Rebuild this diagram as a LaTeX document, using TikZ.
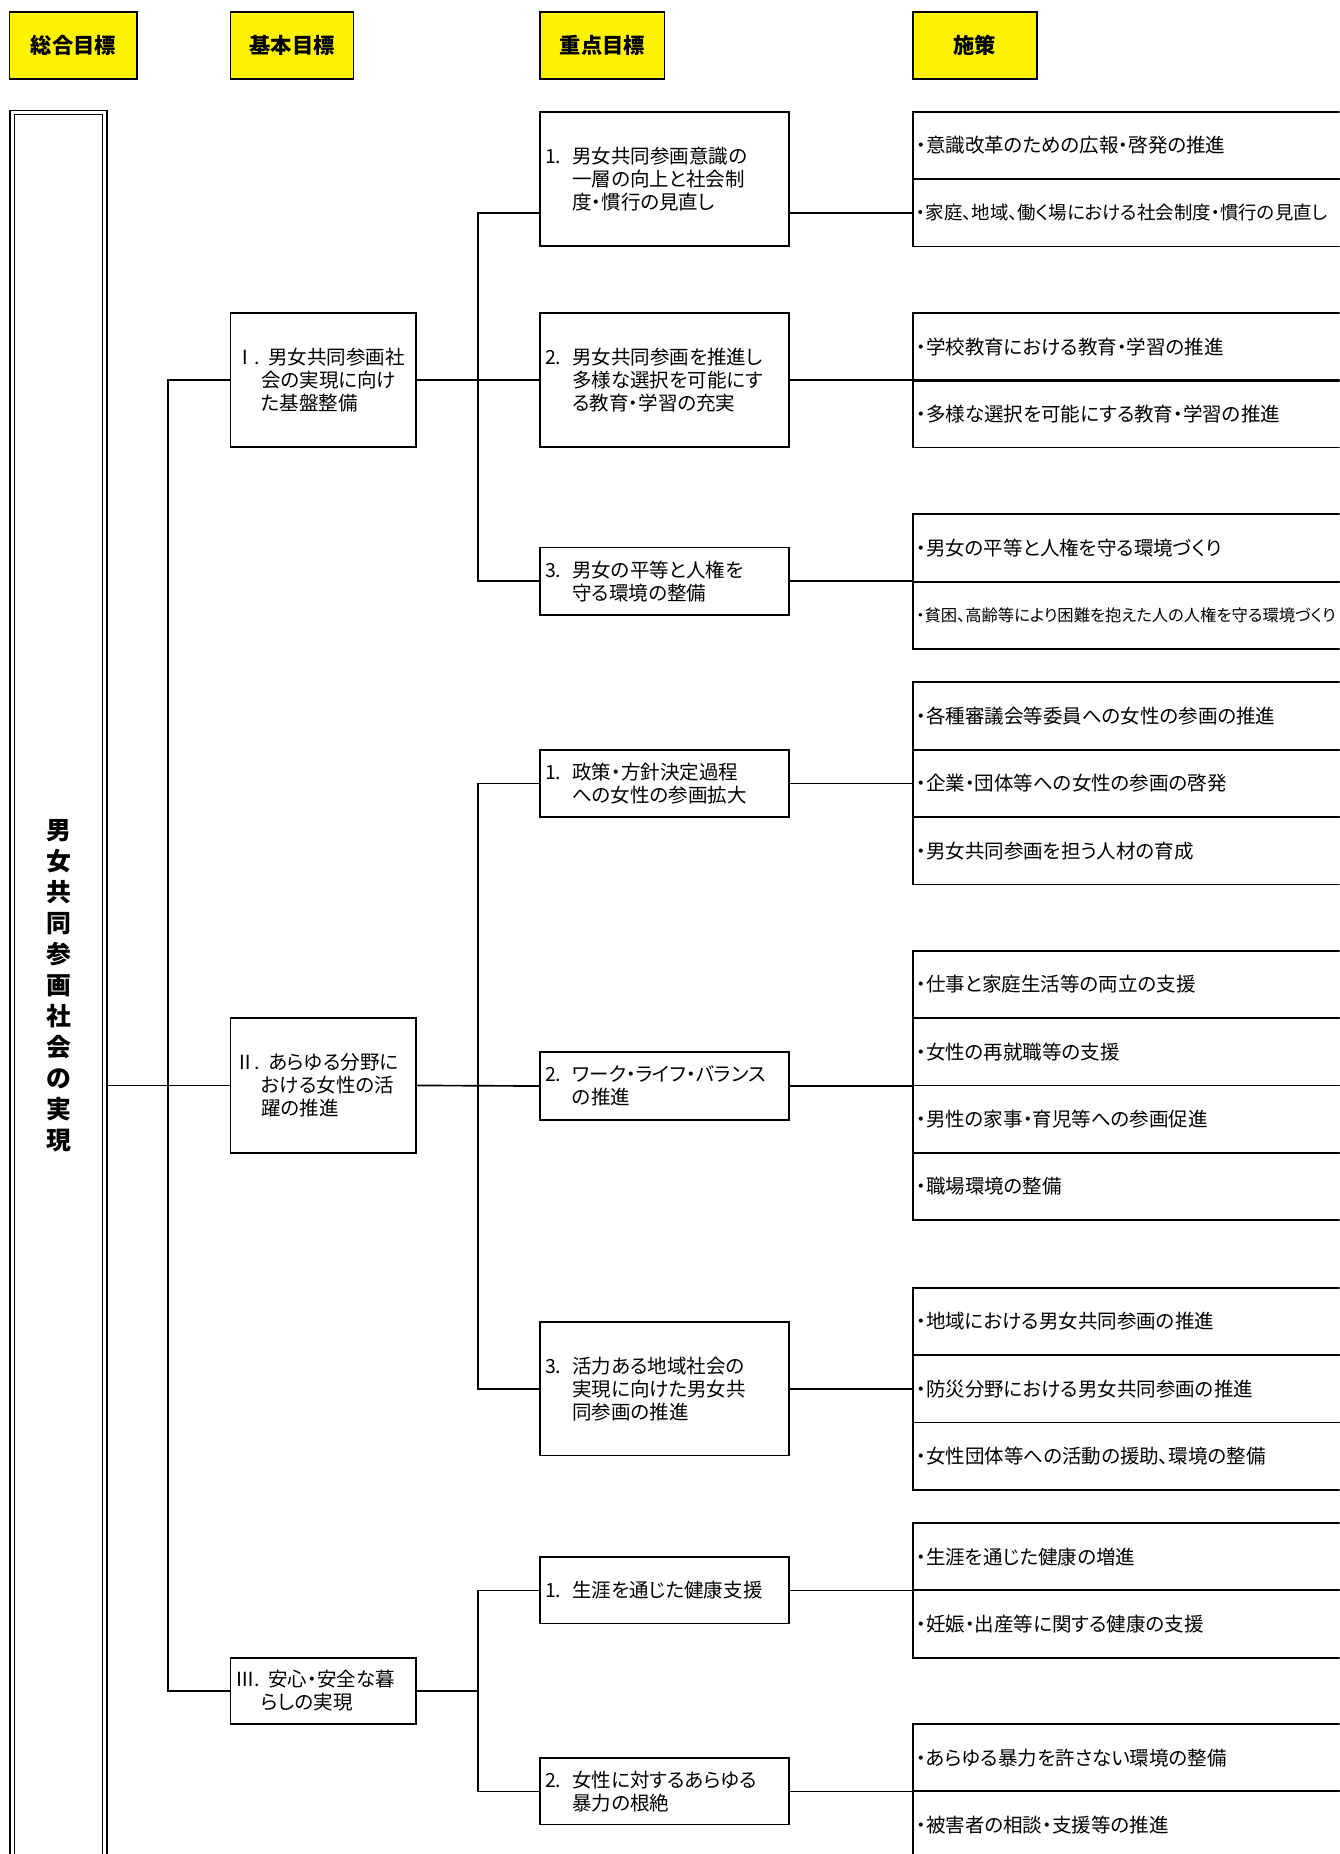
\documentclass[tikz,border=0pt]{standalone}
\usepackage{fontspec}
\setmainfont{Noto Sans CJK JP}[RawFeature=+palt]
\begin{document}
\begin{tikzpicture}[x=1pt,y=-1pt,
  head/.style={draw,line width=1.5pt,fill=yellow,minimum height=57pt,font=\fontsize{18}{20}\selectfont\bfseries},
  kbox/.style={draw,line width=1.5pt,minimum width=157pt,text width=149pt,inner xsep=4pt,align=left,font=\fontsize{16.5}{19.5}\selectfont},
  jbox/.style={draw,line width=1.5pt,minimum width=210pt,text width=202pt,inner xsep=4pt,align=left,font=\fontsize{16.5}{19.5}\selectfont},
  sbox/.style={draw,line width=1.5pt,minimum width=372pt,minimum height=57pt,text width=366pt,inner xsep=3pt,align=left,font=\fontsize{16.5}{19.5}\selectfont},
  link/.style={line width=1.4pt}]
\useasboundingbox (0,0) rectangle (1133,1568);
\clip (0,0) rectangle (1133,1568);

\node[head,minimum width=108pt] (H1) at (62,38.5) {総合目標};
\node[head,minimum width=104pt] (H2) at (247,38.5) {基本目標};
\node[head,minimum width=105pt] (H3) at (509.5,38.5) {重点目標};
\node[head,minimum width=105pt] (H4) at (824.5,38.5) {施策};

\node[draw,double,double distance=2.5pt,line width=1pt,minimum width=78.5pt,minimum height=1476.75pt,align=center,font=\fontsize{21}{26.2}\selectfont\bfseries] (G) at (49.5,833.6) {男\\女\\共\\同\\参\\画\\社\\会\\の\\実\\現};

\node[kbox,minimum height=113pt] (K1) at (273.5,321.5) {\makebox[28pt][l]{Ⅰ.}男女共同参画社\\\hspace*{22pt}会の実現に向け\\\hspace*{22pt}た基盤整備};
\node[kbox,minimum height=114pt] (K2) at (273.5,918) {\makebox[28pt][l]{Ⅱ.}あらゆる分野に\\\hspace*{22pt}おける女性の活\\\hspace*{22pt}躍の推進};
\node[kbox,minimum height=56pt] (K3) at (273.5,1430) {\makebox[28pt][l]{Ⅲ.}安心・安全な暮\\\hspace*{22pt}らしの実現};

\node[jbox,minimum height=113pt] (J11) at (562,151.5) {\makebox[23pt][l]{1.}男女共同参画意識の\\\hspace*{23pt}一層の向上と社会制\\\hspace*{23pt}度・慣行の見直し};
\node[jbox,minimum height=113pt] (J12) at (562,321.5) {\makebox[23pt][l]{2.}男女共同参画を推進し\\\hspace*{23pt}多様な選択を可能にす\\\hspace*{23pt}る教育・学習の充実};
\node[jbox,minimum height=57pt] (J13) at (562,491.5) {\makebox[23pt][l]{3.}男女の平等と人権を\\\hspace*{23pt}守る環境の整備};
\node[jbox,minimum height=57pt] (J21) at (562,662.5) {\makebox[23pt][l]{1.}政策・方針決定過程\\\hspace*{23pt}への女性の参画拡大};
\node[jbox,minimum height=57pt] (J22) at (562,918.5) {\makebox[23pt][l]{2.}ワーク・ライフ・バランス\\\hspace*{23pt}の推進};
\node[jbox,minimum height=113pt] (J23) at (562,1174.5) {\makebox[23pt][l]{3.}活力ある地域社会の\\\hspace*{23pt}実現に向けた男女共\\\hspace*{23pt}同参画の推進};
\node[jbox,minimum height=56pt] (J31) at (562,1345) {\makebox[23pt][l]{1.}生涯を通じた健康支援};
\node[jbox,minimum height=56pt] (J32) at (562,1515) {\makebox[23pt][l]{2.}女性に対するあらゆる\\\hspace*{23pt}暴力の根絶};

\node[sbox] (S11a) at (958,123) {・意識改革のための広報・啓発の推進};
\node[sbox,font=\fontsize{15.6}{19}\selectfont] (S11b) at (958,180) {・家庭、地域、働く場における社会制度・慣行の見直し};
\node[sbox] (S12a) at (958,293.5) {・学校教育における教育・学習の推進};
\node[sbox] (S12b) at (958,350) {・多様な選択を可能にする教育・学習の推進};
\node[sbox] (S13a) at (958,463.5) {・男女の平等と人権を守る環境づくり};
\node[sbox,font=\fontsize{13.8}{16}\selectfont] (S13b) at (958,520.5) {・貧困、高齢等により困難を抱えた人の人権を守る環境づくり};
\node[sbox] (S21a) at (958,605.5) {・各種審議会等委員への女性の参画の推進};
\node[sbox] (S21b) at (958,662.5) {・企業・団体等への女性の参画の啓発};
\node[sbox] (S21c) at (958,719.5) {・男女共同参画を担う人材の育成};
\node[sbox] (S22a) at (958,832.5) {・仕事と家庭生活等の両立の支援};
\node[sbox] (S22b) at (958,889.5) {・女性の再就職等の支援};
\node[sbox] (S22c) at (958,946.5) {・男性の家事・育児等への参画促進};
\node[sbox] (S22d) at (958,1003.5) {・職場環境の整備};
\node[sbox] (S23a) at (958,1117.5) {・地域における男女共同参画の推進};
\node[sbox] (S23b) at (958,1174.5) {・防災分野における男女共同参画の推進};
\node[sbox] (S23c) at (958,1231.5) {・女性団体等への活動の援助、環境の整備};
\node[sbox] (S31a) at (958,1316.5) {・生涯を通じた健康の増進};
\node[sbox] (S31b) at (958,1373.5) {・妊娠・出産等に関する健康の支援};
\node[sbox] (S32a) at (958,1486.5) {・あらゆる暴力を許さない環境の整備};
\node[sbox] (S32b) at (958,1543.5) {・被害者の相談・支援等の推進};

% trunk
\draw[link] (K2.west) -- (K2.west -| G.east);
\draw[link] (K1.west) -- ++(-52,0) |- (K3.west);

% branches
\draw[link] (K1.east) -- (J12.west);
\draw[link] (J11.west |- S11b.west) -- ++(-52,0) |- (J13.west);
\draw[link] (K2.east) -- (J22.west);
\draw[link] (J21.west) -- ++(-52,0) |- (J23.west);
\draw[link] (J31.west) -- ++(-52,0) coordinate (B3) |- (J32.west);
\draw[link] (K3.east) -- (K3.east -| B3);

\draw[link] (J11.east |- S11b.west) -- (S11b.west);
\draw[link] (J12.east) -- (J12.east -| S12a.west);
\draw[link] (J13.east) -- (J13.east -| S13a.west);
\draw[link] (J21.east) -- (S21b.west);
\draw[link] (J22.east) -- (J22.east -| S22a.west);
\draw[link] (J23.east) -- (S23b.west);
\draw[link] (J31.east) -- (J31.east -| S31a.west);
\draw[link] (J32.east) -- (J32.east -| S32a.west);
\end{tikzpicture}
\end{document}
